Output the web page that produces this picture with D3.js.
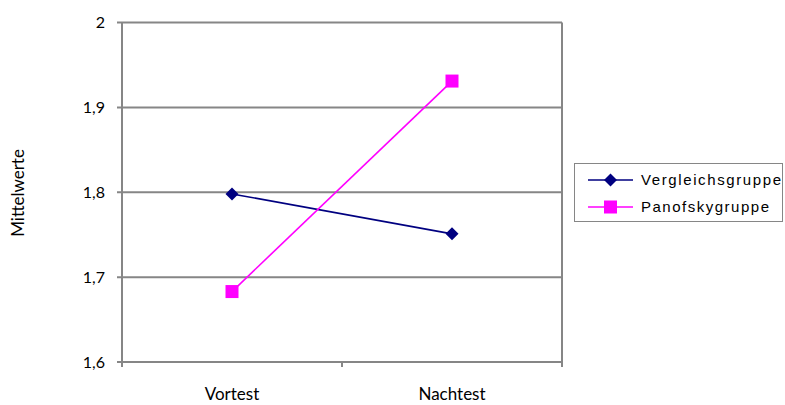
<!DOCTYPE html>
<html><head><meta charset="utf-8">
<script src="https://cdn.jsdelivr.net/npm/d3@7"></script>
<style>body{margin:0;background:#fff}svg{display:block}</style>
</head><body>
<script>
const categories = ["Vortest", "Nachtest"];
const seriesNames = ["Vergleichsgruppe", "Panofskygruppe"];
const vergleichValues = [1.798, 1.751];
const panofskyValues = [1.683, 1.931];
const yTicks = [1.6, 1.7, 1.8, 1.9, 2.0];
const yTickLabels = ["1,6", "1,7", "1,8", "1,9", "2"];
const yLabel = "Mittelwerte";

const W = 785, H = 405;
const plot = {left: 122, right: 562, top: 22.5, bottom: 362};
const svg = d3.select("body").append("svg").attr("width", W).attr("height", H);

const x = d3.scaleBand().domain(categories).range([plot.left, plot.right]);
const y = d3.scaleLinear().domain([1.6, 2.0]).range([plot.bottom, plot.top]);
const grey = "#868686";
const axisFont = "Lato, 'Open Sans', sans-serif";

// gridlines
svg.append("g").selectAll("line").data(yTicks).join("line")
  .attr("x1", plot.left - 5).attr("x2", plot.right)
  .attr("y1", d => y(d)).attr("y2", d => y(d))
  .attr("stroke", grey).attr("stroke-width", 2);

// left and right vertical lines
svg.append("line").attr("x1", plot.left).attr("x2", plot.left)
  .attr("y1", plot.top).attr("y2", plot.bottom + 5).attr("stroke", grey).attr("stroke-width", 2);
svg.append("line").attr("x1", plot.right).attr("x2", plot.right)
  .attr("y1", plot.top).attr("y2", plot.bottom + 5).attr("stroke", grey).attr("stroke-width", 2);

// x ticks at band boundaries
const bounds = categories.map(c => x(c)).concat([plot.right]);
svg.append("g").selectAll("line").data(bounds).join("line")
  .attr("x1", d => d).attr("x2", d => d)
  .attr("y1", plot.bottom).attr("y2", plot.bottom + 5)
  .attr("stroke", grey).attr("stroke-width", 2);

// y tick labels
svg.append("g").selectAll("text").data(yTicks).join("text")
  .attr("x", 105).attr("y", d => y(d)).attr("dy", "0.35em")
  .attr("text-anchor", "end").attr("font-family", axisFont).attr("font-size", 16)
  .attr("fill", "#000").text((d, i) => yTickLabels[i]);

// x labels
svg.append("g").selectAll("text").data(categories).join("text")
  .attr("x", d => x(d) + x.bandwidth() / 2).attr("y", 400)
  .attr("text-anchor", "middle").attr("font-family", axisFont).attr("font-size", 17)
  .attr("fill", "#000").text(d => d);

// y axis title
svg.append("text").attr("transform", "translate(24,193) rotate(-90)")
  .attr("text-anchor", "middle").attr("font-family", axisFont).attr("font-size", 17)
  .attr("fill", "#000").text(yLabel);

const series = [
  {name: seriesNames[0], values: vergleichValues, color: "#000080", marker: "diamond"},
  {name: seriesNames[1], values: panofskyValues, color: "#FF00FF", marker: "square"}
];
const line = d3.line().x((d, i) => x(categories[i]) + x.bandwidth() / 2).y(d => y(d));

function drawMarker(g, type, cx, cy, color) {
  if (type === "diamond") {
    g.append("path").attr("d", `M${cx},${cy-6.5}L${cx+6.5},${cy}L${cx},${cy+6.5}L${cx-6.5},${cy}Z`).attr("fill", color);
  } else {
    g.append("rect").attr("x", cx - 6.5).attr("y", cy - 6.5).attr("width", 13).attr("height", 13).attr("fill", color);
  }
}

series.forEach(s => {
  const g = svg.append("g");
  g.append("path").datum(s.values).attr("d", line).attr("fill", "none")
    .attr("stroke", s.color).attr("stroke-width", 1.6);
  s.values.forEach((v, i) => drawMarker(g, s.marker, x(categories[i]) + x.bandwidth() / 2, y(v), s.color));
});

// legend
const lg = svg.append("g");
lg.append("rect").attr("x", 574.5).attr("y", 163.5).attr("width", 208).attr("height", 58)
  .attr("fill", "#fff").attr("stroke", grey).attr("stroke-width", 1);
series.forEach((s, i) => {
  const cy = 180 + i * 27;
  lg.append("line").attr("x1", 588).attr("x2", 633).attr("y1", cy).attr("y2", cy)
    .attr("stroke", s.color).attr("stroke-width", 1.6);
  drawMarker(lg, s.marker, 610.5, cy, s.color);
  lg.append("text").attr("x", 641).attr("y", cy).attr("dy", "0.35em")
    .attr("font-family", "'Liberation Sans', Arial, sans-serif").attr("font-size", 15)
    .attr("textLength", i === 0 ? 140 : 128).attr("lengthAdjust", "spacing")
    .attr("fill", "#000").text(s.name);
});
</script>
</body></html>
